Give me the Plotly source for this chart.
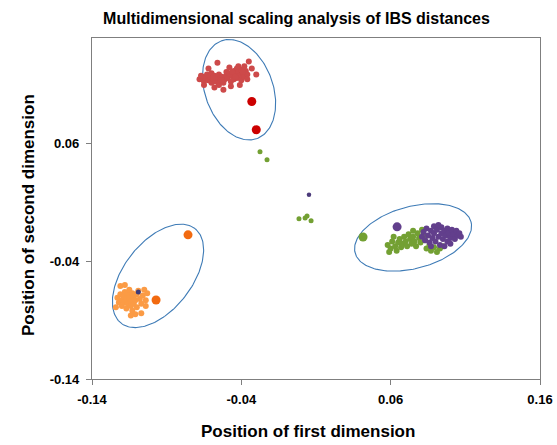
import numpy as np
import plotly.graph_objects as go

# ---------------- data ----------------
red_small_x = [-0.068,-0.066,-0.065,-0.064,-0.063,-0.062,-0.061,-0.060,-0.060,-0.059,-0.058,-0.057,-0.056,-0.055,-0.055,-0.054,-0.053,-0.052,-0.051,-0.050,-0.050,
               -0.049,-0.048,-0.047,-0.046,-0.045,-0.045,-0.044,-0.043,-0.043,-0.042,-0.041,-0.040,-0.040,-0.039,-0.038,-0.037,-0.036,-0.036,-0.038,-0.042,
               -0.062,-0.056,-0.048,-0.035,-0.030,-0.058,-0.052,-0.047,-0.041,-0.065,-0.033,-0.067,-0.059,-0.053,-0.046,-0.044,-0.039]
red_small_y = [0.115,0.117,0.113,0.116,0.119,0.114,0.117,0.112,0.120,0.115,0.118,0.113,0.116,0.119,0.110,0.114,0.117,0.112,0.115,0.118,0.121,
               0.116,0.120,0.113,0.118,0.122,0.115,0.119,0.124,0.116,0.121,0.118,0.123,0.114,0.120,0.117,0.122,0.119,0.115,0.126,0.126,
               0.124,0.129,0.125,0.130,0.119,0.108,0.106,0.109,0.110,0.110,0.124,0.118,0.116,0.114,0.121,0.117,0.121]

red_big_x = [-0.033, -0.030]
red_big_y = [0.096, 0.072]

green_mid_x = [-0.0275, -0.0228, -0.0014, 0.0027, 0.0040, 0.0067]
green_mid_y = [0.0532, 0.0464, -0.0038, -0.0030, -0.0013, -0.0055]

purple_mid_x = [0.0053]
purple_mid_y = [0.0166]

green_small_x = [0.058,0.060,0.061,0.063,0.064,0.065,0.066,0.067,0.068,0.069,0.070,0.071,0.072,0.073,0.074,0.075,0.075,0.076,0.077,0.078,0.079,0.080,0.081,0.082,0.083,0.084,0.086,0.087,0.089,0.091,0.093,0.095,0.062,0.059]
green_small_y = [-0.026,-0.029,-0.023,-0.027,-0.031,-0.024,-0.021,-0.028,-0.025,-0.019,-0.023,-0.027,-0.017,-0.021,-0.025,-0.014,-0.019,-0.023,-0.027,-0.016,-0.020,-0.024,-0.013,-0.018,-0.022,-0.029,-0.026,-0.031,-0.028,-0.032,-0.029,-0.027,-0.019,-0.032]

green_big_x = [0.0415]
green_big_y = [-0.0192]

purple_small_x = [0.081,0.082,0.083,0.084,0.085,0.086,0.087,0.088,0.089,0.089,0.090,0.091,0.092,0.093,0.094,0.094,0.095,0.096,0.097,0.098,0.098,0.099,0.100,0.101,0.102,0.103,0.104,0.105,0.106,0.107,0.100,0.096,0.087,0.092]
purple_small_y = [-0.019,-0.015,-0.022,-0.012,-0.018,-0.024,-0.014,-0.020,-0.010,-0.016,-0.023,-0.013,-0.019,-0.026,-0.011,-0.016,-0.021,-0.014,-0.018,-0.012,-0.023,-0.016,-0.020,-0.013,-0.017,-0.021,-0.014,-0.018,-0.016,-0.019,-0.025,-0.027,-0.027,-0.009]

purple_big_x = [0.0643]
purple_big_y = [-0.0106]

orange_small_x = [-0.123,-0.122,-0.121,-0.120,-0.120,-0.119,-0.118,-0.118,-0.117,-0.117,-0.116,-0.116,-0.115,-0.115,-0.114,-0.114,-0.113,-0.113,-0.112,-0.112,-0.111,-0.110,-0.110,-0.109,-0.108,-0.107,-0.106,-0.105,-0.104,-0.104,-0.121,-0.103,-0.118,-0.111,-0.124,-0.114,-0.107]
orange_small_y = [-0.071,-0.075,-0.068,-0.073,-0.078,-0.070,-0.066,-0.075,-0.072,-0.080,-0.068,-0.076,-0.064,-0.071,-0.074,-0.078,-0.067,-0.082,-0.070,-0.076,-0.073,-0.068,-0.079,-0.065,-0.072,-0.076,-0.069,-0.064,-0.073,-0.078,-0.061,-0.067,-0.060,-0.085,-0.079,-0.086,-0.084]

orange_big_x = [-0.0757, -0.0971]
orange_big_y = [-0.0174, -0.0728]

navy_x = [-0.109]
navy_y = [-0.066]

# ellipses: centre (data), semi-axes (screen px), tilt (deg, counter-clockwise from x-axis)
ell_cx = [-0.0415, -0.0958, 0.0750]
ell_cy = [0.1060, -0.0523, -0.0196]
ell_a = [52, 60, 60]
ell_b = [34, 34, 31]
ell_ang = [110, 52, 15]

x_ticks = [-0.14, -0.04, 0.06, 0.16]
y_ticks = [-0.14, -0.04, 0.06]
x_range = [-0.14, 0.16]
y_range = [-0.14, 0.15]

W, H = 557, 445
ML, MR, MT, MB = 92, 17, 38, 66
PW, PH = W - ML - MR, H - MT - MB
sx = PW / (x_range[1] - x_range[0])
sy = PH / (y_range[1] - y_range[0])

fig = go.Figure()

def add_pts(x, y, color, size):
    fig.add_trace(go.Scatter(x=x, y=y, mode="markers",
                             marker=dict(color=color, size=size, line=dict(width=0)),
                             showlegend=False, hoverinfo="skip"))

t = np.linspace(0, 2 * np.pi, 200)
for cx, cy, a, b, ang in zip(ell_cx, ell_cy, ell_a, ell_b, ell_ang):
    th = np.deg2rad(ang)
    px = a * np.cos(t) * np.cos(th) - b * np.sin(t) * np.sin(th)
    py = a * np.cos(t) * np.sin(th) + b * np.sin(t) * np.cos(th)
    fig.add_trace(go.Scatter(x=cx + px / sx, y=cy + py / sy, mode="lines",
                             line=dict(color="#3E7BB6", width=1.1),
                             showlegend=False, hoverinfo="skip"))

add_pts(red_small_x, red_small_y, "#CD4A4A", 6)
add_pts(red_big_x, red_big_y, "#CC0000", 9)
add_pts(green_small_x, green_small_y, "#73A033", 6)
add_pts(purple_small_x, purple_small_y, "#623F8C", 6)
add_pts(green_mid_x, green_mid_y, "#73A033", 5)
add_pts(purple_mid_x, purple_mid_y, "#4B3A7A", 4.5)
add_pts(green_big_x, green_big_y, "#73A033", 9)
add_pts(purple_big_x, purple_big_y, "#623F8C", 9)
add_pts(orange_small_x, orange_small_y, "#FB9B45", 6)
add_pts(orange_big_x, orange_big_y, "#F26A10", 9)
add_pts(navy_x, navy_y, "#3F3C7A", 5)

font = "Liberation Sans, Arial, sans-serif"
fig.update_layout(
    width=W, height=H,
    margin=dict(l=ML, r=MR, t=MT, b=MB, autoexpand=False),
    paper_bgcolor="white", plot_bgcolor="white",
    title=dict(text="<b>Multidimensional scaling analysis of IBS distances</b>",
               x=296.5 / W, xanchor="center", y=1 - 18 / H, yanchor="middle",
               font=dict(family=font, size=16, color="black")),
    xaxis=dict(range=x_range, tickvals=x_ticks, ticktext=[f"<b>{v:.2f}</b>" for v in x_ticks],
               showgrid=False, zeroline=False, showline=True, linecolor="#7F7F7F", linewidth=1.2,
               mirror=True, ticks="outside", ticklen=5, tickcolor="#7F7F7F", ticklabelstandoff=3,
               automargin=False,
               tickfont=dict(family=font, size=13, color="black")),
    yaxis=dict(range=y_range, tickvals=y_ticks, ticktext=[f"<b>{v:.2f}</b>" for v in y_ticks],
               showgrid=False, zeroline=False, showline=True, linecolor="#7F7F7F", linewidth=1.2,
               mirror=True, ticks="outside", ticklen=5, tickcolor="#7F7F7F", ticklabelstandoff=4,
               automargin=False,
               tickfont=dict(family=font, size=13, color="black")),
    annotations=[
        dict(text="<b>Position of first dimension</b>", xref="paper", yref="paper",
             x=(307.5 - ML) / PW, y=-(431 - (MT + PH)) / PH, xanchor="center", yanchor="middle",
             showarrow=False, font=dict(family=font, size=17, color="black")),
        dict(text="<b>Position of second dimension</b>", xref="paper", yref="paper",
             x=(28 - ML) / PW, y=1 - (215 - MT) / PH, xanchor="center", yanchor="middle",
             textangle=-90, showarrow=False, font=dict(family=font, size=17, color="black")),
    ],
)

fig.write_html("out.html", config={"displayModeBar": False},
               post_script="document.body.style.margin='0';document.body.style.overflow='hidden';")
